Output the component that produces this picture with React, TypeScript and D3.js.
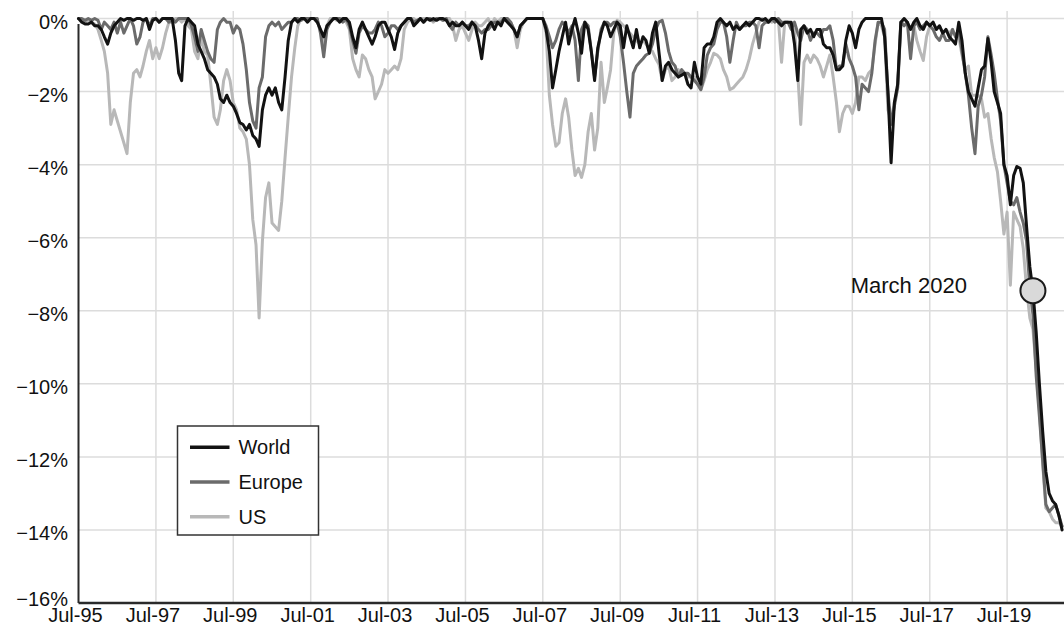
import React from "react";
import * as d3 from "d3";

// Monthly drawdown data (%), starting Jul-1995
const START_YEAR = 1995;
const START_MONTH = 6; // July (0-based)

const WORLD = [
  0, -0.1, -0.15, -0.15, -0.1, -0.2, -0.2, -0.3, -0.5, -0.7, -0.4, -0.2,
  -0.1, 0, -0.05, 0, 0, -0.05, 0, 0, -0.05, 0, -0.3, -0.05,
  0, -0.1, 0, 0, 0, 0, -0.6, -1.5, -1.7, -0.2, 0, -0.1,
  -0.2, -0.7, -0.9, -1.1, -1.4, -1.5, -1.6, -1.8, -2.2, -2.3, -2.1, -2.3,
  -2.4, -2.6, -2.85, -2.9, -3.05, -2.9, -3.2, -3.3, -3.5, -2.5, -2.1, -1.9,
  -2.1, -1.9, -2.3, -2.5, -1.6, -0.6, -0.1, 0, -0.1, 0, 0, -0.1,
  0, 0, -0.1, -0.3, -0.5, -0.2, -0.1, 0, 0, -0.1, 0, 0,
  -0.1, -0.5, -0.8, -0.3, -0.1, -0.3, -0.5, -0.7, -0.5, -0.2, -0.1, -0.1,
  -0.3, -0.5, -0.85, -0.4, -0.2, -0.1, 0, 0, -0.2, -0.1, 0, -0.1,
  0, -0.05, 0, -0.05, 0, 0, -0.05, -0.2, -0.1, -0.2, -0.2, -0.1,
  -0.2, -0.3, -0.1, -0.2, -0.6, -1.1, -0.4, -0.2, -0.1, -0.3, -0.1, -0.2,
  0, -0.1, -0.2, -0.3, -0.5, -0.2, -0.1, 0, 0, 0, 0, 0,
  0, -0.3, -0.9, -1.9, -1.4, -0.9, -0.5, -0.1, -0.7, -0.3, 0, -0.4,
  -0.95, -0.1, -0.3, -0.9, -1.7, -0.8, -0.4, -0.1, -0.2, -0.5, -0.3, -0.1,
  -0.2, -0.8, -0.2, -0.5, -0.8, -0.3, -0.8, -0.5, -0.6, -0.95, -0.4, -0.1,
  -0.9, -1.7, -1.3, -1.2, -1.4, -1.5, -1.6, -1.55, -1.5, -1.8, -1.9, -1.2,
  -1.6, -1.8, -0.8, -0.7, -0.7, -0.5, -0.1, 0, -0.1, -0.2, -0.1, -0.3,
  -0.2, -0.3, -0.2, -0.1, -0.2, -0.1, 0, 0, -0.05, 0, -0.1, 0,
  0, -0.1, -0.2, -0.1, -0.1, -0.1, -0.7, -1.7, -0.3, -0.2, -0.4, -0.3,
  -0.5, -0.3, -0.3, -0.7, -0.8, -0.8, -1.0, -1.4, -1.4, -1.3, -0.6, -0.2,
  -0.4, -0.8, -0.3, -0.1, 0, 0, 0, 0, 0, 0, -0.5, -2.0,
  -3.95, -2.3, -1.8, -0.1, 0, -0.1, -0.3, -0.1, 0, -0.2, -0.3, -0.1,
  -0.2, -0.1, -0.3, -0.2, -0.4, -0.3, -0.5, -0.6, -0.7, -0.1, -0.6, -1.5,
  -2.0, -2.2, -2.4, -1.9, -1.4, -1.3, -0.55, -1.2, -2.0, -2.3, -2.6, -4.0,
  -4.3, -5.1, -4.3, -4.05, -4.1, -4.5, -5.7, -6.8, -7.45, -8.6, -10.0, -11.3,
  -12.4, -13.0, -13.2, -13.3, -13.6, -14.0,
];

const EUROPE = [
  0, 0, -0.05, 0, -0.05, 0, -0.05, -0.3, -0.1, -0.2, -0.3, -0.1,
  -0.4, -0.1, -0.4, -0.2, 0, -0.2, -0.7, -0.5, -0.1, 0, -0.2, 0,
  0, -0.1, 0, 0, -0.1, 0, -0.1, 0, 0, 0, 0, -0.2,
  -0.5, -0.9, -0.3, -0.6, -0.9, -1.1, -1.2, -0.3, -0.1, 0, -0.1, -0.1,
  -0.4, -0.2, -0.3, -0.7, -1.4, -2.3, -2.8, -3.0, -1.9, -1.6, -0.5, -0.2,
  -0.1, -0.2, -0.1, -0.3, -0.2, -0.1, -0.1, 0, 0, -0.05, 0, 0,
  0, 0, 0, -0.4, -1.05, -0.3, -0.1, 0, 0, 0, -0.1, 0,
  -0.2, -0.6, -0.95, -0.4, -0.2, -0.3, -0.4, -0.4, -0.3, -0.1, -0.2, -0.5,
  -0.4, -0.2, -0.2, -0.3, -0.2, -0.1, 0, 0, -0.1, -0.05, 0, -0.1,
  0, 0, -0.05, 0, 0, -0.05, 0, -0.2, -0.3, -0.1, -0.2, -0.1,
  -0.2, -0.2, -0.1, -0.2, -0.3, -0.4, -0.3, -0.3, -0.2, -0.1, -0.1, -0.1,
  0, 0, -0.1, -0.3, -0.5, -0.2, -0.1, 0, 0, 0, 0, 0,
  0, -0.2, -0.5, -0.8, -0.6, -0.3, -0.1, -0.2, -0.4, -0.2, -0.6, -1.7,
  -0.3, -0.1, -0.2, -0.9, -1.6, -0.9, -0.3, -0.1, -0.1, -0.2, -0.1, -0.1,
  -0.5, -1.2, -2.0, -2.7, -1.5, -1.3, -1.2, -1.1, -1.0, -0.95, -0.7, -0.3,
  -0.1, -0.05, -0.4, -0.9, -1.2, -1.3, -1.6, -1.4, -1.5, -1.5, -1.6, -1.7,
  -1.8, -1.95, -1.6, -1.0, -0.8, -0.7, -0.3, -0.1, -0.1, -0.5, -1.2, -0.6,
  -0.1, -0.3, -0.2, -0.2, -0.1, -0.1, -0.2, -0.8, -0.2, -0.1, -0.1, 0,
  -0.1, 0, -0.1, -0.1, -0.1, -0.3, -0.1, -0.4, -0.6, -0.2, -0.3, -0.6,
  -0.4, -0.4, -0.5, -0.3, -0.3, -0.2, -0.6, -1.4, -1.3, -1.3, -0.7, -1.1,
  -1.3, -1.6, -2.5, -1.8, -1.9, -2.0, -1.5, -0.6, -0.1, -0.1, -0.3, -2.0,
  -2.9, -2.4, -1.9, -0.1, -0.2, -0.1, -1.1, -0.2, -0.1, -0.3, -0.2, -0.1,
  -0.2, -0.3, -0.5, -0.6, -0.4, -0.6, -0.6, -0.3, -0.5, -0.3, -0.9, -1.5,
  -2.1, -3.0, -3.7, -2.4, -2.1, -1.6, -0.5, -1.0, -1.5, -2.2, -2.8, -4.0,
  -4.5, -5.0, -5.1, -4.9, -5.3, -5.6, -6.1, -7.4, -8.1, -9.8, -10.9, -12.1,
  -13.3, -13.5, -13.4, -13.3, -13.6, -13.9,
];

const US = [
  0, -0.05, -0.1, -0.05, -0.1, -0.15, -0.3, -0.6, -0.9, -1.5, -2.9, -2.5,
  -2.8, -3.1, -3.4, -3.7, -2.3, -1.5, -1.4, -1.6, -1.3, -0.9, -0.6, -1.1,
  -0.8, -1.1, -0.8, -0.4, -0.1, -0.1, 0, 0, -0.1, 0, -0.2, -0.3,
  -0.9, -1.1, -0.5, -0.9, -1.0, -1.8, -2.7, -2.9, -2.5, -1.7, -1.4, -1.7,
  -2.3, -2.5, -3.0, -3.1, -3.3, -4.0, -5.5, -6.2, -8.2, -6.1, -4.9, -4.5,
  -5.6, -5.7, -5.8, -5.0, -3.8, -2.7, -1.6, -0.8, -0.2, 0, 0, -0.05,
  0, 0, -0.1, -0.3, -0.7, -0.2, 0, 0, -0.05, 0, 0, -0.1,
  -0.3, -1.1, -1.4, -1.6, -1.0, -1.1, -1.4, -1.6, -2.2, -2.0, -1.8, -1.4,
  -1.5, -1.4, -1.3, -1.4, -1.1, -0.3, -0.1, 0, 0, -0.1, 0, 0,
  0, 0, -0.1, 0, 0, -0.05, 0, 0, -0.2, -0.6, -0.3, -0.2,
  -0.4, -0.6, -0.3, -0.1, -0.2, -0.2, -0.1, 0, -0.2, 0, -0.1, 0,
  0, 0, -0.1, -0.3, -0.8, -0.3, -0.1, 0, 0, 0, 0, 0,
  0, -0.4, -2.1, -2.9, -3.5, -3.4, -2.6, -2.2, -2.7, -3.6, -4.3, -4.1,
  -4.35, -4.0, -3.1, -2.6, -3.6, -3.0, -1.2, -2.3, -1.9, -1.4, -0.4, -0.05,
  -0.1, -0.2, -0.3, -0.4, -0.5, -0.6, -0.7, -0.6, -0.7, -0.85, -0.9, -1.1,
  -1.25, -1.7, -1.4, -1.3, -1.7, -1.6, -1.4, -1.5, -1.5, -1.6, -1.6, -1.6,
  -1.8, -1.95, -1.7, -1.4, -1.2, -0.95, -1.0, -1.1, -1.4, -1.6, -1.95, -1.9,
  -1.8, -1.7, -1.6, -1.4, -1.1, -0.7, -0.4, -0.1, 0, -0.1, -0.05, -0.1,
  -0.05, 0, -1.2, -0.1, -0.1, -0.2, -0.3, -1.5, -2.9, -1.2, -1.0, -1.2,
  -1.0, -1.1, -1.3, -1.6, -1.3, -1.0, -1.6, -2.3, -3.1, -2.6, -2.4, -2.4,
  -2.6, -2.3, -1.6, -1.6, -1.7, -1.5, -1.4, -0.7, -0.1, -0.2, -0.5, -2.5,
  -2.8, -2.3, -1.9, -0.2, 0, -0.1, -0.3, -0.2, -0.6, -0.9, -1.15, -0.5,
  -0.2, -0.1, -0.3, -0.2, -0.4, -0.3, -0.4, -0.3, -0.5, -0.5, -1.0, -1.4,
  -1.3, -2.1, -2.1, -2.1, -2.2, -2.7, -2.6, -3.3, -3.8, -4.2, -5.0, -5.9,
  -5.3, -7.3, -5.3, -5.5, -5.7, -6.3, -7.4, -8.2, -8.5, -9.6, -10.7, -12.2,
  -13.4, -13.5, -13.7, -13.8, -13.8, -13.9,
];

const SERIES_NAMES = ["World", "Europe", "US"];
const SERIES_COLORS = ["#121212", "#6b6b6b", "#b8b8b8"];
const Y_TICKS = [0, -2, -4, -6, -8, -10, -12, -14, -16];
const X_TICK_YEARS = [1995, 1997, 1999, 2001, 2003, 2005, 2007, 2009, 2011, 2013, 2015, 2017, 2019];
const MARKER_LABEL = "March 2020";
const MARKER_YEAR = 2020;
const MARKER_MONTH = 2;

const W = 1064;
const H = 627;
const LEFT = 78.5;
const TOP = 18.5;
const BOTTOM = 603;
const FONT = "'Liberation Sans', Arial, Helvetica, sans-serif";

export default function App() {
  const start = new Date(START_YEAR, START_MONTH, 1);
  const x = d3
    .scaleTime()
    .domain([start, new Date(2021, 0, 1)])
    .range([LEFT, LEFT + 306 * 3.225]);
  const y = d3.scaleLinear().domain([-16, 0]).range([BOTTOM, TOP]);

  const dateAt = (i: number) => d3.timeMonth.offset(start, i);
  const line = d3
    .line<number>()
    .x((_, i) => x(dateAt(i)))
    .y((d) => y(d));

  const data = [WORLD, EUROPE, US];
  const drawOrder = [2, 1, 0];

  const markerIdx = d3.timeMonth.count(start, new Date(MARKER_YEAR, MARKER_MONTH, 1));
  const mx = x(dateAt(markerIdx));
  const my = y(WORLD[markerIdx]);

  const fmtY = (v: number) => (v < 0 ? "\u2212" + Math.abs(v) + "%" : v + "%");
  const fmtX = d3.timeFormat("%b-%y");

  const legendX = 177.5;
  const legendY = 426;
  const legendW = 141;
  const legendH = 109;

  return (
    <svg
      width={W}
      height={H}
      style={{ position: "absolute", left: 0, top: 0, background: "#fff" }}
      fontFamily={FONT}
    >
      <rect x={0} y={0} width={W} height={H} fill="#fff" />
      {/* horizontal grid */}
      {Y_TICKS.filter((t) => t > -16).map((t) => (
        <line key={"hg" + t} x1={LEFT} x2={W} y1={y(t)} y2={y(t)} stroke="#dcdcdc" strokeWidth={1.5} />
      ))}
      {/* vertical grid */}
      {X_TICK_YEARS.filter((yr) => yr > START_YEAR).map((yr) => {
        const xx = x(new Date(yr, 6, 1));
        return <line key={"vg" + yr} x1={xx} x2={xx} y1={11} y2={BOTTOM} stroke="#dcdcdc" strokeWidth={1.5} />;
      })}
      {/* series */}
      {drawOrder.map((k) => (
        <path
          key={SERIES_NAMES[k]}
          d={line(data[k]) || ""}
          fill="none"
          stroke={SERIES_COLORS[k]}
          strokeWidth={3}
          strokeLinejoin="round"
          strokeLinecap="round"
        />
      ))}
      {/* axes */}
      <line x1={LEFT} x2={LEFT} y1={24} y2={BOTTOM} stroke="#2a2a2a" strokeWidth={2} />
      <line x1={LEFT} x2={W} y1={BOTTOM} y2={BOTTOM} stroke="#2a2a2a" strokeWidth={2.5} />
      {/* y labels */}
      {Y_TICKS.map((t) => (
        <text key={"yl" + t} x={68} y={Math.min(y(t) + 10.5, 605.5)} textAnchor="end" fontSize={20} fill="#111">
          {fmtY(t)}
        </text>
      ))}
      {/* x labels */}
      {X_TICK_YEARS.map((yr) => {
        const d = new Date(yr, 6, 1);
        return (
          <text key={"xl" + yr} x={x(d) - 3} y={622} textAnchor="middle" fontSize={20} fill="#111">
            {fmtX(d)}
          </text>
        );
      })}
      {/* marker */}
      <circle cx={mx} cy={my} r={12.5} fill="#d9d9d9" stroke="#1a1a1a" strokeWidth={2} />
      <text x={mx - 66} y={my + 2} textAnchor="end" fontSize={22} fill="#111">
        {MARKER_LABEL}
      </text>
      {/* legend */}
      <rect x={legendX} y={legendY} width={legendW} height={legendH} fill="#fff" stroke="#333" strokeWidth={1.5} />
      {SERIES_NAMES.map((n, i) => {
        const ly = legendY + 21.3 + i * 34.7;
        return (
          <g key={"lg" + n}>
            <line x1={legendX + 12.5} x2={legendX + 52} y1={ly} y2={ly} stroke={SERIES_COLORS[i]} strokeWidth={3.5} />
            <text x={legendX + 61} y={ly + 7} fontSize={20} fill="#111">
              {n}
            </text>
          </g>
        );
      })}
    </svg>
  );
}
